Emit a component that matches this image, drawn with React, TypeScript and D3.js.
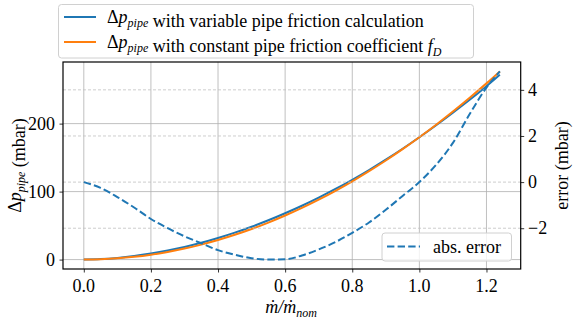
import React, { useRef, useEffect } from 'react';
import * as d3 from 'd3';

// mass flow ratio samples
const flowRatio = [0, 0.05, 0.1, 0.15, 0.2, 0.25, 0.3, 0.35, 0.4, 0.45, 0.5, 0.55, 0.6, 0.65, 0.7, 0.75, 0.8, 0.85, 0.9, 0.95, 1.0, 1.05, 1.1, 1.15, 1.2, 1.24];
// pressure drop (mbar) with variable friction
const dpVariable = [0, 0.7, 2.45, 5.15, 8.8, 13.25, 18.55, 24.7, 31.75, 39.6, 48.3, 57.8, 68.15, 79.2, 91.1, 103.85, 117.4, 131.8, 147.0, 163.05, 180.0, 197.7, 216.1, 235.1, 255.1, 272.0];
// pressure drop (mbar) with constant friction coefficient
const dpConstant = [0, 0.45, 1.8, 4.05, 7.2, 11.25, 16.2, 22.05, 28.8, 36.45, 45.0, 54.45, 64.8, 76.05, 88.2, 101.25, 115.2, 130.05, 145.8, 162.45, 180.0, 198.45, 217.8, 238.05, 259.2, 276.8];
// absolute error (mbar)
const absError = [0, -0.25, -0.65, -1.1, -1.6, -2.0, -2.35, -2.65, -2.95, -3.15, -3.3, -3.36, -3.35, -3.18, -2.92, -2.6, -2.2, -1.75, -1.2, -0.6, 0.0, 0.75, 1.7, 2.95, 4.1, 4.8];

const xTicks = [0, 0.2, 0.4, 0.6, 0.8, 1.0, 1.2];
const leftTicks = [0, 100, 200];
const rightTicks = [-2, 0, 2, 4];

const W = 573;
const H = 321;
const FONT = "'Liberation Serif'";
// regular Liberation Serif falls back to sans below 18px here
const FS = 18;
const SUB = 12;

const pad = (lo: number, hi: number) => {
  const m = (hi - lo) * 0.05;
  return [lo - m, hi + m];
};

type TSel = d3.Selection<SVGTextElement, unknown, null, undefined>;

const App = () => {
  const ref = useRef<SVGSVGElement>(null);

  useEffect(() => {
    const svg = d3.select(ref.current);
    svg.selectAll('*').remove();

    const left = 63, right = 520.7, top = 62, bottom = 269;

    const x = d3.scaleLinear()
      .domain(pad(d3.min(flowRatio)!, d3.max(flowRatio)!))
      .range([left, right]);
    const allDp = dpVariable.concat(dpConstant);
    const yL = d3.scaleLinear()
      .domain(pad(d3.min(allDp)!, d3.max(allDp)!))
      .range([bottom, top]);
    const yR = d3.scaleLinear()
      .domain(pad(d3.min(absError)!, d3.max(absError)!))
      .range([bottom, top]);

    const label = (px: number, py: number, anchor: string, rot = 0): TSel => {
      const t = svg.append('text')
        .attr('x', px).attr('y', py)
        .attr('text-anchor', anchor)
        .attr('fill', '#000')
        .style('font-family', FONT)
        .style('font-size', FS + 'px');
      if (rot) t.attr('transform', `rotate(${rot},${px},${py})`);
      return t as unknown as TSel;
    };

    // Δp_pipe
    const dp = (t: TSel) => {
      t.append('tspan').text('Δ');
      t.append('tspan').style('font-style', 'italic').text('p');
      t.append('tspan').style('font-style', 'italic').style('font-size', SUB + 'px').attr('dy', 4).text('pipe');
      t.append('tspan').attr('dy', -4).text('');
    };

    // grid: vertical + left horizontal (solid)
    const grid = svg.append('g');
    xTicks.forEach(t => {
      grid.append('line')
        .attr('x1', x(t)).attr('x2', x(t)).attr('y1', top).attr('y2', bottom)
        .attr('stroke', '#b0b0b0').attr('stroke-width', 0.8);
    });
    leftTicks.forEach(t => {
      grid.append('line')
        .attr('x1', left).attr('x2', right).attr('y1', yL(t)).attr('y2', yL(t))
        .attr('stroke', '#b0b0b0').attr('stroke-width', 0.8);
    });

    // pressure curves
    const lineDp = d3.line<number>()
      .x((_, i) => x(flowRatio[i]))
      .y(d => yL(d))
      .curve(d3.curveMonotoneX);
    svg.append('path').attr('d', lineDp(dpVariable)!)
      .attr('fill', 'none').attr('stroke', '#1f77b4').attr('stroke-width', 2);
    svg.append('path').attr('d', lineDp(dpConstant)!)
      .attr('fill', 'none').attr('stroke', '#ff7f0e').attr('stroke-width', 2);

    // right axis grid (dashed)
    rightTicks.forEach(t => {
      svg.append('line')
        .attr('x1', left).attr('x2', right).attr('y1', yR(t)).attr('y2', yR(t))
        .attr('stroke', '#c0c0c0').attr('stroke-width', 0.8)
        .attr('stroke-dasharray', '3,2');
    });

    // error curve
    const lineErr = d3.line<number>()
      .x((_, i) => x(flowRatio[i]))
      .y(d => yR(d))
      .curve(d3.curveMonotoneX);
    svg.append('path').attr('d', lineErr(absError)!)
      .attr('fill', 'none').attr('stroke', '#1f77b4').attr('stroke-width', 2)
      .attr('stroke-dasharray', '7.4,3.2');

    // frame
    svg.append('rect')
      .attr('x', left).attr('y', top).attr('width', right - left).attr('height', bottom - top)
      .attr('fill', 'none').attr('stroke', 'black').attr('stroke-width', 1.2);

    // axis ticks (labels drawn separately)
    const gx = svg.append('g').attr('transform', `translate(0,${bottom})`)
      .call(d3.axisBottom(x).tickValues(xTicks).tickFormat(() => '').tickSize(3.5));
    const gl = svg.append('g').attr('transform', `translate(${left},0)`)
      .call(d3.axisLeft(yL).tickValues(leftTicks).tickFormat(() => '').tickSize(3.5));
    const gr = svg.append('g').attr('transform', `translate(${right},0)`)
      .call(d3.axisRight(yR).tickValues(rightTicks).tickFormat(() => '').tickSize(3.5));
    [gx, gl, gr].forEach(g => {
      g.select('.domain').remove();
      g.selectAll('text').remove();
      g.selectAll('line').attr('stroke', '#000').attr('stroke-width', 0.8);
    });

    xTicks.forEach(t => label(x(t), 292, 'middle').text(d3.format('.1f')(t)));
    leftTicks.forEach(t => label(55, yL(t) + 6, 'end').text(String(t)));
    rightTicks.forEach(t => label(528, yR(t) + 6, 'start').text(t < 0 ? '\u2212' + Math.abs(t) : String(t)));

    // x label
    const xl = label(291, 313, 'middle');
    xl.append('tspan').style('font-style', 'italic').text('ṁ/ṁ');
    xl.append('tspan').style('font-style', 'italic').style('font-size', SUB + 'px').attr('dy', 4).text('nom');

    // left y label
    const yl = label(21, (top + bottom) / 2, 'middle', -90);
    dp(yl);
    yl.append('tspan').text(' (mbar)');

    // right y label
    label(568, (top + bottom) / 2, 'middle', -90).text('error (mbar)');

    // top legend
    svg.append('rect').attr('x', 58.5).attr('y', 4.5).attr('width', 415).attr('height', 53.5)
      .attr('rx', 3).attr('fill', 'white').attr('fill-opacity', 0.8)
      .attr('stroke', '#d0d0d0').attr('stroke-width', 1);
    const leg = [
      { color: '#1f77b4', y: 17, label: ' with variable pipe friction calculation', fd: false },
      { color: '#ff7f0e', y: 42, label: ' with constant pipe friction coefficient ', fd: true },
    ];
    leg.forEach(l => {
      svg.append('line').attr('x1', 64).attr('x2', 96).attr('y1', l.y).attr('y2', l.y)
        .attr('stroke', l.color).attr('stroke-width', 2);
      const t = label(107, l.y + 6, 'start');
      dp(t);
      t.append('tspan').text(l.label);
      if (l.fd) {
        t.append('tspan').style('font-style', 'italic').text('f');
        t.append('tspan').style('font-style', 'italic').style('font-size', SUB + 'px').attr('dy', 4).text('D');
      }
    });

    // error legend
    svg.append('rect').attr('x', 382).attr('y', 233).attr('width', 129.5).attr('height', 28)
      .attr('rx', 3).attr('fill', 'white').attr('fill-opacity', 0.8)
      .attr('stroke', '#d0d0d0').attr('stroke-width', 1);
    svg.append('line').attr('x1', 387).attr('x2', 420).attr('y1', 246.5).attr('y2', 246.5)
      .attr('stroke', '#1f77b4').attr('stroke-width', 2).attr('stroke-dasharray', '7.4,3.2');
    label(433, 252.5, 'start').text('abs. error');
  }, []);

  return (
    <div style={{ position: 'absolute', left: 0, top: 0 }}>
      <svg ref={ref} width={W} height={H} style={{ display: 'block', background: 'white' }} />
    </div>
  );
};

export default App;
